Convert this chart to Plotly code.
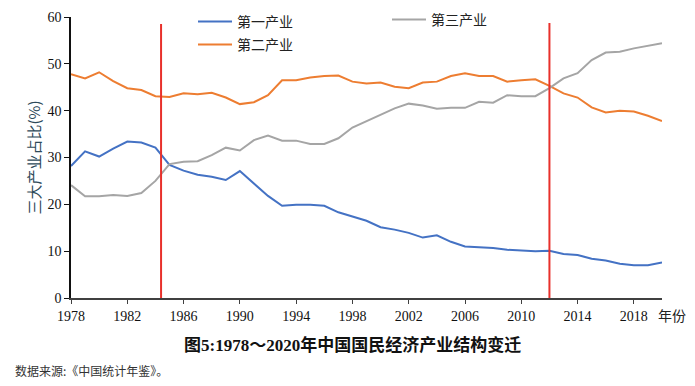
import plotly.graph_objects as go

years = list(range(1978, 2021))
primary = [28.2, 31.3, 30.2, 31.9, 33.4, 33.2, 32.1, 28.4, 27.2, 26.3, 25.9, 25.2,
           27.1, 24.5, 21.8, 19.7, 19.9, 19.9, 19.7, 18.3, 17.4, 16.5,
           15.1, 14.6, 13.9, 12.9, 13.4, 12.0, 11.0, 10.8, 10.7, 10.3,
           10.1, 10.0, 10.1, 9.4, 9.2, 8.4, 8.0, 7.3, 7.0, 7.0, 7.6]
secondary = [47.8, 46.9, 48.2, 46.3, 44.8, 44.4, 43.1, 42.9, 43.7, 43.5, 43.8, 42.8,
             41.4, 41.8, 43.3, 46.5, 46.5, 47.1, 47.4, 47.5, 46.2, 45.8,
             46.0, 45.1, 44.8, 46.0, 46.2, 47.4, 48.0, 47.4, 47.4, 46.2,
             46.5, 46.7, 45.3, 43.7, 42.8, 40.7, 39.6, 40.0, 39.8, 38.9, 37.8]
tertiary = [24.1, 21.7, 21.7, 22.0, 21.8, 22.4, 25.0, 28.6, 29.1, 29.2, 30.5, 32.1,
            31.5, 33.7, 34.7, 33.6, 33.6, 32.9, 32.9, 34.1, 36.4, 37.8,
            39.1, 40.5, 41.5, 41.1, 40.4, 40.6, 40.6, 41.9, 41.7, 43.3,
            43.1, 43.1, 44.8, 46.9, 48.0, 50.8, 52.4, 52.6, 53.3, 53.9, 54.4]
series_names = ["第一产业", "第二产业", "第三产业"]
x_ticks = list(range(1978, 2019, 4))
y_ticks = list(range(0, 61, 10))
divider_years = [1984.4, 2012.0]
divider_tops = [58.5, 58.7]

SERIF = "Liberation Serif, Times New Roman, Noto Sans CJK SC, serif"
CJK = "Noto Sans CJK SC, sans-serif"

colors = ["#4472C4", "#ED7D31", "#A5A5A5"]
legends = ["legend", "legend2", "legend3"]

fig = go.Figure()
for name, vals, c, lg in zip(series_names, [primary, secondary, tertiary], colors, legends):
    fig.add_trace(go.Scatter(x=years, y=vals, mode="lines", name=name,
                             line=dict(color=c, width=2), legend=lg))

for xv, top in zip(divider_years, divider_tops):
    fig.add_shape(type="line", xref="x", yref="y", x0=xv, x1=xv, y0=0, y1=top,
                  line=dict(color="#E8302B", width=2))

# page body has an 8px margin; work in page pixels and offset
OFF = 8
W, H = 695 - OFF, 386 - OFF
L, T = 71 - OFF, 17 - OFF
R = W - (662 - OFF)
B = H - (298 - OFF)
pw, ph = W - L - R, H - T - B

def px(x):
    return (x - OFF - L) / pw

def py(y):
    return (H - B - (y - OFF)) / ph

leg_common = dict(orientation="v", xanchor="left", yanchor="middle",
                  bgcolor="rgba(0,0,0,0)", itemwidth=34,
                  font=dict(family=CJK, size=14, color="#222222"))

fig.update_layout(
    width=W, height=H,
    margin=dict(l=L, r=R, t=T, b=B, autoexpand=False),
    plot_bgcolor="white", paper_bgcolor="white",
    showlegend=True,
    legend=dict(x=px(193), y=py(22), **leg_common),
    legend2=dict(x=px(193), y=py(45), **leg_common),
    legend3=dict(x=px(387), y=py(20), **leg_common),
    xaxis=dict(range=[1978, 2020], tickvals=x_ticks, ticktext=[str(v) for v in x_ticks],
               showgrid=False, zeroline=False, showline=True, linecolor="#404040",
               linewidth=1.5, ticks="outside", ticklen=4, tickcolor="#404040",
               tickfont=dict(family=SERIF, size=14, color="#111111")),
    yaxis=dict(range=[0, 60], tickvals=y_ticks, showgrid=False, zeroline=False,
               showline=True, linecolor="#111111", linewidth=1.5, ticks="outside",
               ticklen=5, tickcolor="#111111",
               tickfont=dict(family=SERIF, size=14, color="#111111")),
    annotations=[
        dict(text="三大产业占比(%)", xref="paper", yref="paper", x=px(33), y=0.5,
             textangle=-90, showarrow=False, xanchor="center", yanchor="middle",
             font=dict(family=CJK, size=15, color="#2e4a5a")),
        dict(text="年份", xref="paper", yref="paper", x=px(656), y=py(315),
             showarrow=False, xanchor="left", yanchor="middle",
             font=dict(family=CJK, size=14, color="#222222")),
        dict(text="<b>图5:1978～2020年中国国民经济产业结构变迁</b>", xref="paper", yref="paper",
             x=px(352.5), y=py(345), showarrow=False, xanchor="center", yanchor="middle",
             font=dict(family=SERIF, size=17, color="#111111")),
        dict(text="数据来源:《中国统计年鉴》。", xref="paper", yref="paper",
             x=px(13), y=py(370), showarrow=False, xanchor="left", yanchor="middle",
             font=dict(family=CJK, size=12, color="#333333")),
    ],
)

fig.write_html("out.html")
